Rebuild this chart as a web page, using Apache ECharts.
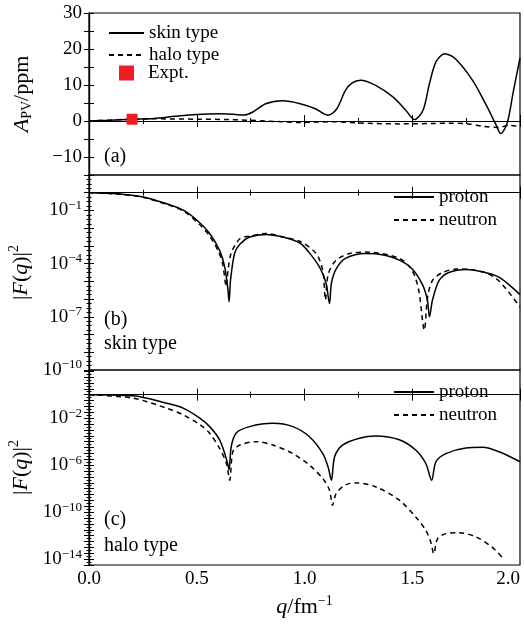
<!DOCTYPE html>
<html lang="en">
<head>
<meta charset="UTF-8">
<title>APV and form factors</title>
<script src="https://cdn.jsdelivr.net/npm/echarts@6/dist/echarts.min.js"></script>
<style>
  html, body { margin: 0; padding: 0; background: #fff; }
  #chart { width: 524px; height: 627px; }
</style>
</head>
<body>
<div id="chart"></div>
<script type="text/javascript">
// (a) A_PV in ppm vs q (fm^-1)
var aSkinQ = [0, 0.1, 0.2, 0.3, 0.4, 0.5, 0.6, 0.67, 0.72, 0.76, 0.82, 0.9, 0.98, 1.05, 1.11, 1.15, 1.19, 1.22, 1.26, 1.33, 1.41, 1.47, 1.51, 1.55, 1.58, 1.61, 1.65, 1.7, 1.78, 1.84, 1.89, 1.91, 1.94, 1.97, 2.0];
var aSkinV = [0, 0.2, 0.5, 0.7, 1.3, 1.8, 2.0, 1.85, 1.65, 2.5, 4.8, 5.6, 4.8, 3.4, 1.6, 3.4, 8.5, 10.5, 11.3, 9.9, 6.7, 3.0, 0.4, 3.0, 10.4, 16.4, 18.7, 17.3, 11.3, 4.8, -1.2, -3.5, -0.7, 8.5, 17.5];
var aHaloQ = [0, 0.2, 0.3, 0.5, 0.65, 0.82, 0.98, 1.13, 1.28, 1.44, 1.6, 1.67, 1.76, 1.83, 1.9, 1.95, 2.0];
var aHaloV = [0, 0.5, 0.6, 0.5, 0.4, 0, -0.4, -0.2, -0.6, -0.8, -0.7, -0.6, -0.8, -1.5, -1.8, -1.2, -1.5];
var exptPoint = [0.2, 0.5];

// (b) skin type, log10 |F(q)|^2
var bProtonQ = [0, 0.13, 0.25, 0.36, 0.44, 0.51, 0.56, 0.606, 0.63, 0.645, 0.65, 0.657, 0.676, 0.7, 0.745, 0.82, 0.9, 0.98, 1.02, 1.07, 1.1, 1.116, 1.125, 1.147, 1.19, 1.285, 1.36, 1.44, 1.5, 1.548, 1.57, 1.58, 1.594, 1.625, 1.67, 1.75, 1.83, 1.9, 1.95, 2.0];
var bProtonV = [0, -0.06, -0.24, -0.62, -1.0, -1.65, -2.3, -3.25, -4.2, -5.5, -6.15, -4.9, -3.4, -2.9, -2.5, -2.35, -2.5, -2.85, -3.35, -4.2, -5.1, -6.25, -5.1, -4.3, -3.7, -3.43, -3.5, -3.8, -4.3, -5.2, -6.05, -7.0, -6.05, -4.95, -4.5, -4.33, -4.47, -4.75, -5.2, -5.75];
var bNeutronQ = [0, 0.13, 0.25, 0.36, 0.44, 0.51, 0.56, 0.6, 0.62, 0.637, 0.645, 0.66, 0.7, 0.745, 0.82, 0.9, 0.98, 1.054, 1.085, 1.097, 1.11, 1.147, 1.21, 1.285, 1.44, 1.5, 1.53, 1.556, 1.571, 1.594, 1.64, 1.71, 1.83, 1.9, 2.0];
var bNeutronV = [0, -0.07, -0.26, -0.65, -1.05, -1.75, -2.45, -3.3, -4.0, -5.3, -4.4, -3.4, -2.6, -2.45, -2.3, -2.5, -2.75, -3.43, -4.4, -6.05, -4.6, -3.8, -3.43, -3.35, -3.7, -4.4, -5.5, -7.75, -5.9, -4.95, -4.5, -4.3, -4.47, -4.95, -6.45];

// (c) halo type, log10 |F(q)|^2
var cProtonQ = [0, 0.205, 0.36, 0.437, 0.514, 0.56, 0.606, 0.63, 0.645, 0.65, 0.66, 0.684, 0.745, 0.853, 0.946, 1.023, 1.085, 1.11, 1.125, 1.14, 1.178, 1.255, 1.33, 1.44, 1.517, 1.563, 1.59, 1.61, 1.656, 1.748, 1.826, 1.903, 2.0];
var cProtonV = [0, -0.1, -0.73, -1.15, -2.0, -2.72, -3.84, -5.02, -6.0, -6.4, -4.43, -3.25, -2.72, -2.44, -2.72, -3.58, -5.02, -6.2, -7.28, -5.27, -4.28, -3.71, -3.52, -3.84, -4.73, -5.86, -7.28, -5.71, -5.02, -4.53, -4.48, -4.86, -5.71];
var cNeutronQ = [0, 0.205, 0.36, 0.437, 0.514, 0.56, 0.606, 0.637, 0.653, 0.668, 0.7, 0.776, 0.853, 0.946, 1.023, 1.085, 1.116, 1.13, 1.147, 1.19, 1.24, 1.33, 1.44, 1.517, 1.563, 1.586, 1.6, 1.617, 1.656, 1.718, 1.795, 1.87, 1.917];
var cNeutronV = [0, -0.3, -1.15, -1.72, -2.54, -3.29, -4.57, -5.81, -7.28, -4.83, -4.29, -4.0, -4.29, -5.02, -6.0, -7.14, -8.13, -9.42, -8.41, -7.68, -7.51, -7.84, -8.98, -10.43, -11.55, -12.55, -13.54, -12.27, -11.83, -11.75, -12.1, -12.98, -13.83];

var FONT = 'Liberation Serif';

function pairs(xs, ys) {
    return xs.map(function (x, i) { return [x, ys[i]]; });
}

var rich = {
    n: { fontFamily: FONT, fontSize: 19, color: '#000' },
    it: { fontFamily: FONT, fontSize: 19, fontStyle: 'italic', color: '#000' },
    sup: { fontFamily: FONT, fontSize: 13, color: '#000', padding: [0, 0, 10, 0] },
    sub: { fontFamily: FONT, fontSize: 13, color: '#000', padding: [9, 0, 0, 0] }
};
// bigger text for the axis titles
var richName = {
    n: { fontFamily: FONT, fontSize: 22, color: '#000' },
    it: { fontFamily: FONT, fontSize: 22, fontStyle: 'italic', color: '#000' },
    sup: { fontFamily: FONT, fontSize: 14, color: '#000', padding: [0, 0, 12, 0] },
    sub: { fontFamily: FONT, fontSize: 14, color: '#000', padding: [10, 0, 0, 0] }
};

// 10^n labels, every `step` decades starting at `first`
function powLabel(first, step) {
    return function (v) {
        if (v < 0 && (v - first) % step === 0) return '{n|10}{sup|\u2212' + Math.abs(v) + '}';
        return '';
    };
}

var tickStyle = { color: '#000', width: 1 };
var lineAx = { show: true, lineStyle: { color: '#000', width: 1.2 } };

function xAx(i, pos, labels) {
    return {
        type: 'value', gridIndex: i, position: pos, min: 0, max: 2, interval: 0.5,
        axisLine: lineAx,
        axisTick: { inside: true, length: 6, lineStyle: tickStyle },
        minorTick: { show: true, splitNumber: 2, length: 3, lineStyle: tickStyle },
        splitLine: { show: false },
        axisLabel: labels ? {
            margin: 5, fontFamily: FONT, fontSize: 19, color: '#000', alignMaxLabel: 'right',
            formatter: function (v) { return v.toFixed(1); }
        } : { show: false },
        name: labels ? '{it|q}{n|/fm}{sup|\u22121}' : '',
        nameLocation: 'middle', nameGap: 29,
        nameTextStyle: { rich: richName }
    };
}

function yAx(i, pos, cfg) {
    var ax = {
        type: 'value', gridIndex: i, position: pos, min: cfg.min, max: cfg.max, interval: cfg.interval,
        axisLine: lineAx,
        axisTick: { inside: true, length: 5, lineStyle: tickStyle },
        minorTick: { show: cfg.minor > 0, splitNumber: cfg.minor || 2, length: 2.5, lineStyle: tickStyle },
        splitLine: { show: false },
        axisLabel: { show: false }
    };
    if (pos === 'left') {
        ax.axisLabel = { show: true, margin: 7, formatter: cfg.fmt, rich: rich, fontFamily: FONT, fontSize: 19, color: '#000' };
        ax.name = cfg.name;
        ax.nameLocation = 'middle';
        ax.nameGap = 55;
        ax.nameRotate = 90;
        ax.nameTextStyle = { rich: richName };
    }
    return ax;
}

var yA = {
    min: -15, max: 30, interval: 5, minor: 0,
    fmt: function (v) { return v % 10 === 0 ? '{n|' + (v < 0 ? '\u2212' + (-v) : v) + '}' : ''; },
    name: '{it|A}{sub|PV}{n|/ppm}'
};
var yB = { min: -10, max: 1, interval: 1, minor: 4, fmt: powLabel(-10, 3), name: '{n||}{it|F}{n|(}{it|q}{n|)|}{sup|2}' };
var yC = { min: -14.5, max: 2.1, interval: 0.5, minor: 2, fmt: powLabel(-14, 4), name: '{n||}{it|F}{n|(}{it|q}{n|)|}{sup|2}' };

var solid = { color: '#000', width: 1.5, type: 'solid' };
var dashed = { color: '#000', width: 1.5, type: [5, 4] };

function curve(name, i, data, style) {
    return {
        name: name, type: 'line', xAxisIndex: i, yAxisIndex: i, data: data,
        symbol: 'none', smooth: 0.3, lineStyle: style, itemStyle: { color: '#000' }
    };
}

var legendText = { fontFamily: FONT, fontSize: 19, color: '#000', lineHeight: 22 };
// line-only legend icons (hide the marker drawn on the line)
var lineLegend = { padding: 0, orient: 'vertical', itemHeight: 2, itemStyle: { opacity: 0 }, textStyle: legendText };

var option = {
    animation: false,
    backgroundColor: '#fff',
    grid: [
        { left: 89, right: 4, top: 13, height: 162, show: true, borderColor: '#000', borderWidth: 1.2, outerBoundsMode: 'none', containLabel: false },
        { left: 89, right: 4, top: 175, height: 195, show: true, borderColor: '#000', borderWidth: 1.2, outerBoundsMode: 'none', containLabel: false },
        { left: 89, right: 4, top: 370, height: 195, show: true, borderColor: '#000', borderWidth: 1.2, outerBoundsMode: 'none', containLabel: false }
    ],
    xAxis: [xAx(0, 'bottom', false), xAx(1, 'bottom', false), xAx(2, 'bottom', true),
            xAx(0, 'top', false), xAx(1, 'top', false), xAx(2, 'top', false)],
    yAxis: [yAx(0, 'left', yA), yAx(1, 'left', yB), yAx(2, 'left', yC),
            yAx(0, 'right', yA), yAx(1, 'right', yB), yAx(2, 'right', yC)],
    legend: [
        Object.assign({ data: ['skin type', 'halo type'], left: 108, top: 22, itemWidth: 35, itemGap: 0 }, lineLegend),
        { data: ['Expt.'], padding: 0, orient: 'vertical', left: 119, top: 62, itemWidth: 15, itemHeight: 15,
          textStyle: Object.assign({ padding: [0, 0, 0, 9] }, legendText) },
        Object.assign({ data: ['proton', 'neutron'], left: 393, top: 186, itemWidth: 40, itemGap: 1 }, lineLegend),
        Object.assign({ data: ['proton', 'neutron'], left: 393, top: 381, itemWidth: 40, itemGap: 1 }, lineLegend)
    ],
    graphic: [
        { type: 'text', left: 104, top: 147, style: { text: '(a)', font: '20px "Liberation Serif"', fill: '#000' } },
        { type: 'text', left: 104, top: 310, style: { text: '(b)', font: '20px "Liberation Serif"', fill: '#000' } },
        { type: 'text', left: 104, top: 334, style: { text: 'skin type', font: '20px "Liberation Serif"', fill: '#000' } },
        { type: 'text', left: 104, top: 510, style: { text: '(c)', font: '20px "Liberation Serif"', fill: '#000' } },
        { type: 'text', left: 104, top: 536, style: { text: 'halo type', font: '20px "Liberation Serif"', fill: '#000' } }
    ],
    series: [
        curve('skin type', 0, pairs(aSkinQ, aSkinV), solid),
        curve('halo type', 0, pairs(aHaloQ, aHaloV), dashed),
        {
            name: 'Expt.', type: 'scatter', xAxisIndex: 0, yAxisIndex: 0,
            data: [exptPoint], symbol: 'rect', symbolSize: 11,
            itemStyle: { color: '#f01c24', opacity: 1 }, z: 5
        },
        curve('proton', 1, pairs(bProtonQ, bProtonV), solid),
        curve('neutron', 1, pairs(bNeutronQ, bNeutronV), dashed),
        curve('proton', 2, pairs(cProtonQ, cProtonV), solid),
        curve('neutron', 2, pairs(cNeutronQ, cNeutronV), dashed)
    ]
};

var myChart = echarts.init(document.getElementById('chart'));
myChart.setOption(option);
</script>
</body>
</html>
